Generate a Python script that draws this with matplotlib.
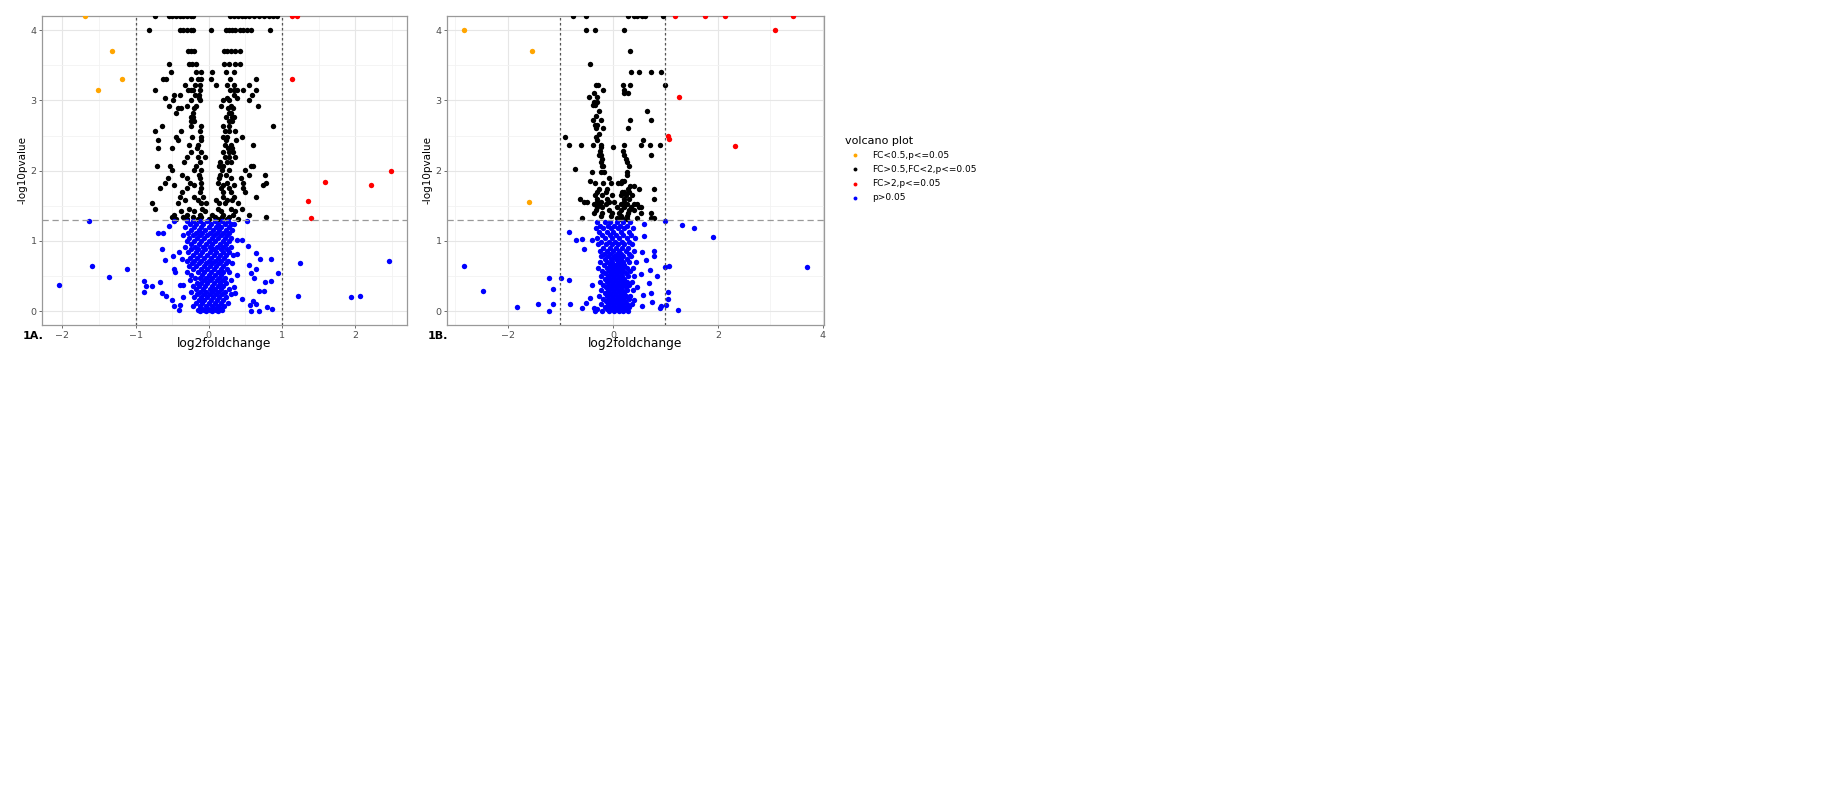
import numpy as np
import matplotlib
matplotlib.use("Agg")
import matplotlib.pyplot as plt
from matplotlib.lines import Line2D

plt.rcParams['font.family'] = ['DejaVu Sans']

legend_title = "volcano plot"
group_labels = ["FC<0.5,p<=0.05", "FC>0.5,FC<2,p<=0.05", "FC>2,p<=0.05", "p>0.05"]
group_colors = ["#FFA500", "#000000", "#FF0000", "#0000FF"]

# ---------------- panel 1A ----------------
a_orange = [(-1.69, 4.2), (-1.32, 3.7), (-1.18, 3.3), (-1.51, 3.15)]
a_red = [(1.14, 4.2), (1.2, 4.2), (1.14, 3.3), (1.36, 1.57), (1.4, 1.33),
         (1.58, 1.84), (2.21, 1.8), (2.48, 2.0)]
# rows of (y, [x ...])
a_black_rows = [
    (4.2, [-0.74, -0.55, -0.5, -0.45, -0.4, -0.35, -0.3, -0.25, -0.21, 0.29, 0.34, 0.4,
           0.45, 0.5, 0.55, 0.62, 0.68, 0.75, 0.82, 0.88, 0.93]),
    (4.0, [-0.81, -0.39, -0.35, -0.3, -0.25, -0.22, 0.03, 0.24, 0.27, 0.31, 0.36, 0.42,
           0.47, 0.52, 0.57, 0.84]),
    (3.7, [-0.29, -0.25, -0.2, 0.21, 0.25, 0.3, 0.36, 0.43]),
    (3.52, [-0.54, -0.27, -0.23, -0.17, 0.21, 0.28, 0.36, 0.43]),
    (3.4, [-0.51, -0.18, -0.1, 0.05, 0.23, 0.35]),
    (3.3, [-0.63, -0.59, -0.25, -0.15, -0.1, 0.03, 0.29, 0.65]),
    (3.22, [-0.32, -0.19, -0.12, 0.1, 0.25, 0.35, 0.55]),
    (3.15, [-0.74, -0.29, -0.25, -0.22, -0.12, 0.29, 0.34, 0.38, 0.46, 0.65]),
    (3.07, [-0.47, -0.4, -0.19, -0.13, 0.34, 0.59]),
    (3.03, [-0.6, -0.14, 0.25, 0.39]),
    (3.0, [-0.49, -0.24, -0.12, 0.2, 0.28, 0.55]),
    (2.92, [-0.55, -0.3, -0.17, 0.17, 0.3, 0.67]),
    (2.89, [-0.42, -0.38, -0.2, 0.26, 0.33]),
    (2.82, [-0.45, -0.22, 0.28, 0.3]),
    (2.77, [-0.25, -0.22, 0.23, 0.31, 0.35]),
    (2.7, [-0.24, -0.2, 0.27, 0.32]),
    (2.63, [-0.64, -0.25, -0.11, 0.2, 0.27, 0.87]),
    (2.56, [-0.73, -0.38, -0.12, 0.22, 0.28, 0.36]),
    (2.48, [-0.45, -0.23, -0.1, 0.2, 0.25, 0.45]),
    (2.44, [-0.7, -0.42, -0.11, 0.24, 0.37]),
    (2.37, [-0.27, -0.15, 0.22, 0.3, 0.6]),
    (2.32, [-0.69, -0.5, -0.16, 0.26, 0.31]),
    (2.27, [-0.25, -0.1, 0.2, 0.27, 0.33]),
    (2.2, [-0.3, -0.15, -0.05, 0.22, 0.27, 0.36]),
    (2.13, [-0.34, -0.12, 0.15, 0.25, 0.3]),
    (2.06, [-0.71, -0.53, -0.18, 0.14, 0.2, 0.57, 0.6]),
    (2.01, [-0.5, -0.2, -0.1, 0.18, 0.27, 0.5]),
    (1.94, [-0.36, -0.14, 0.15, 0.24, 0.55, 0.76]),
    (1.89, [-0.56, -0.3, -0.12, 0.14, 0.3, 0.44]),
    (1.82, [-0.6, -0.26, -0.1, 0.13, 0.25, 0.47, 0.78]),
    (1.8, [-0.48, -0.2, 0.2, 0.34, 0.74]),
    (1.75, [-0.66, -0.3, -0.1, 0.16, 0.27, 0.46]),
    (1.7, [-0.36, -0.12, 0.19, 0.3, 0.5]),
    (1.63, [-0.4, -0.2, -0.08, 0.2, 0.35, 0.64]),
    (1.58, [-0.32, -0.15, 0.1, 0.25, 0.31]),
    (1.54, [-0.78, -0.42, -0.1, -0.04, 0.14, 0.22, 0.4]),
    (1.46, [-0.74, -0.27, -0.09, 0.12, 0.3, 0.45]),
    (1.42, [-0.38, -0.2, -0.05, 0.16, 0.36]),
    (1.37, [-0.48, -0.3, -0.12, 0.05, 0.2, 0.33, 0.55]),
    (1.34, [-0.5, -0.35, -0.22, -0.1, 0.08, 0.18, 0.28, 0.78]),
    (1.31, [-0.45, -0.3, -0.15, 0.0, 0.12, 0.25, 0.4]),
]
a_blue_scatter = [
    (-1.64, 1.29), (-1.6, 0.65), (-1.36, 0.49), (-1.12, 0.6), (-2.05, 0.37), (2.46, 0.72),
    (1.25, 0.68), (1.22, 0.22), (1.94, 0.2), (2.06, 0.22), (0.95, 0.54),
    (-0.88, 0.43), (-0.86, 0.36), (-0.78, 0.36), (-0.89, 0.27), (-0.69, 1.12), (-0.62, 1.12),
    (-0.64, 0.88), (-0.67, 0.41), (-0.64, 0.26), (-0.59, 0.22), (-0.6, 0.73), (-0.49, 0.79),
    (-0.47, 0.6), (-0.46, 0.56), (-0.54, 1.22), (-0.48, 1.29), (-0.5, 0.16), (-0.48, 0.08),
    (-0.41, 0.02), (-0.39, 0.37), (-0.35, 0.37), (-0.37, 0.75), (-0.41, 0.84), (-0.35, 0.21),
    (-0.39, 0.09), (0.52, 1.29), (0.45, 1.02), (0.53, 0.93), (0.39, 0.82), (0.65, 0.83),
    (0.7, 0.74), (0.85, 0.74), (0.55, 0.66), (0.58, 0.54), (0.65, 0.6), (0.61, 0.48),
    (0.77, 0.41), (0.85, 0.43), (0.68, 0.29), (0.75, 0.29), (0.45, 0.17), (0.6, 0.15),
    (0.65, 0.1), (0.56, 0.09), (0.57, 0.0), (0.68, 0.0), (0.79, 0.06), (0.86, 0.03),
    (0.34, 0.35), (0.36, 0.26), (0.38, 0.52), (0.34, 1.24), (0.39, 1.02),
]
a_blue_rows = [
    (1.28, [-0.3, -0.22, -0.12, -0.02, 0.08, 0.18, 0.26]),
    (1.24, [-0.26, -0.17, -0.08, 0.03, 0.12, 0.22, 0.3]),
    (1.2, [-0.33, -0.2, -0.1, 0.0, 0.1, 0.16, 0.27]),
    (1.16, [-0.24, -0.14, -0.05, 0.06, 0.14, 0.24, 0.32]),
    (1.12, [-0.28, -0.18, -0.09, 0.02, 0.11, 0.2, 0.28]),
    (1.08, [-0.35, -0.22, -0.12, -0.03, 0.07, 0.17, 0.25]),
    (1.04, [-0.27, -0.16, -0.06, 0.04, 0.13, 0.22, 0.3]),
    (1.0, [-0.3, -0.2, -0.1, 0.0, 0.09, 0.19, 0.27]),
    (0.96, [-0.24, -0.14, -0.04, 0.05, 0.15, 0.24]),
    (0.92, [-0.32, -0.19, -0.08, 0.02, 0.11, 0.2, 0.3]),
    (0.88, [-0.25, -0.15, -0.05, 0.06, 0.16, 0.25]),
    (0.84, [-0.28, -0.18, -0.09, 0.01, 0.1, 0.19, 0.28]),
    (0.8, [-0.22, -0.12, -0.03, 0.07, 0.15, 0.23, 0.33]),
    (0.76, [-0.26, -0.16, -0.06, 0.03, 0.12, 0.21]),
    (0.72, [-0.3, -0.2, -0.1, 0.0, 0.08, 0.17, 0.26]),
    (0.68, [-0.23, -0.13, -0.04, 0.05, 0.14, 0.23, 0.31]),
    (0.64, [-0.27, -0.17, -0.07, 0.02, 0.1, 0.19]),
    (0.6, [-0.21, -0.11, -0.02, 0.07, 0.16, 0.25]),
    (0.56, [-0.3, -0.15, -0.06, 0.03, 0.12, 0.2, 0.28]),
    (0.52, [-0.24, -0.09, 0.0, 0.09, 0.17]),
    (0.48, [-0.19, -0.12, -0.04, 0.05, 0.14, 0.22]),
    (0.44, [-0.26, -0.07, 0.02, 0.11, 0.19, 0.3]),
    (0.4, [-0.16, -0.1, -0.02, 0.07, 0.15, 0.24]),
    (0.36, [-0.22, -0.13, -0.05, 0.04, 0.12, 0.2]),
    (0.32, [-0.18, -0.08, 0.01, 0.09, 0.17, 0.27]),
    (0.28, [-0.25, -0.12, -0.04, 0.05, 0.13, 0.22]),
    (0.24, [-0.16, -0.07, 0.02, 0.1, 0.18, 0.3]),
    (0.2, [-0.2, -0.11, -0.03, 0.06, 0.14, 0.24]),
    (0.16, [-0.14, -0.06, 0.03, 0.11, 0.19]),
    (0.12, [-0.18, -0.09, 0.0, 0.08, 0.16, 0.26]),
    (0.08, [-0.22, -0.12, -0.04, 0.05, 0.13, 0.21]),
    (0.05, [-0.1, -0.02, 0.07, 0.15]),
    (0.02, [-0.15, -0.07, 0.01, 0.1, 0.18]),
    (0.0, [-0.12, -0.04, 0.04, 0.12]),
]

# ---------------- panel 1B ----------------
b_orange = [(-2.84, 4.0), (-1.55, 3.7), (-1.59, 1.55)]
b_red = [(1.19, 4.2), (1.75, 4.2), (2.13, 4.2), (3.43, 4.2), (3.08, 4.0), (1.26, 3.05),
         (1.05, 2.49), (1.07, 2.45), (2.32, 2.35)]
b_black_rows = [
    (4.2, [-0.76, -0.51, 0.29, 0.4, 0.46, 0.56, 0.62, 0.96]),
    (4.0, [-0.51, -0.35, 0.21]),
    (3.7, [0.32]),
    (3.52, [-0.43]),
    (3.4, [0.35, 0.5, 0.73, 0.92]),
    (3.22, [-0.33, -0.29, 0.2, 0.32, 1.0]),
    (3.15, [-0.18, 0.22]),
    (3.1, [-0.36, 0.21, 0.29]),
    (3.05, [-0.46, -0.31]),
    (2.98, [-0.36, -0.3]),
    (2.93, [-0.37, -0.34]),
    (2.85, [-0.27, 0.65]),
    (2.78, [-0.33]),
    (2.72, [-0.37, -0.23, 0.32, 0.72]),
    (2.65, [-0.35, -0.3]),
    (2.6, [-0.33, -0.19, 0.29]),
    (2.52, [-0.27]),
    (2.48, [-0.92, -0.33]),
    (2.44, [-0.3, 0.58]),
    (2.37, [-0.83, -0.6, -0.37, -0.22, 0.21, 0.53, 0.7, 0.9]),
    (2.34, [-0.22, 0.0]),
    (2.28, [-0.25, 0.2]),
    (2.22, [-0.27, -0.23, 0.22, 0.72]),
    (2.17, [-0.2, 0.24]),
    (2.12, [-0.22, 0.26]),
    (2.06, [-0.2, -0.18, 0.3]),
    (2.03, [-0.73]),
    (1.98, [-0.39, -0.23, -0.17, 0.27]),
    (1.94, [0.27]),
    (1.9, [-0.08]),
    (1.86, [-0.44, 0.18, 0.21]),
    (1.82, [-0.35, -0.18, -0.04, 0.1, 0.15]),
    (1.78, [0.32, 0.4]),
    (1.74, [-0.27, -0.12, 0.29, 0.5, 0.79]),
    (1.7, [-0.3, -0.14, 0.18, 0.21, 0.3]),
    (1.66, [-0.35, -0.2, -0.01, 0.15, 0.24, 0.37]),
    (1.6, [-0.63, -0.3, -0.11, 0.22, 0.3, 0.78]),
    (1.56, [-0.55, -0.49, -0.3, -0.23, -0.08, 0.02, 0.21]),
    (1.52, [-0.36, -0.27, -0.14, 0.15, 0.27, 0.4, 0.46]),
    (1.48, [-0.3, -0.2, 0.08, 0.21, 0.35, 0.5, 0.53]),
    (1.44, [-0.33, -0.08, 0.15, 0.3, 0.4]),
    (1.4, [-0.36, -0.2, -0.01, 0.11, 0.29, 0.53, 0.72]),
    (1.36, [-0.23, -0.04, 0.15, 0.26]),
    (1.32, [-0.58, 0.08, 0.18, 0.46, 0.73, 0.78]),
    (1.31, [0.15, 0.27]),
]
b_blue_scatter = [
    (-2.84, 0.64), (-2.47, 0.29), (-1.82, 0.06), (-1.43, 0.1), (-1.21, 0.48), (-1.14, 0.31),
    (-1.14, 0.1), (-1.21, 0.0), (-0.99, 0.48), (-0.83, 0.45), (-0.82, 0.1), (-0.83, 1.13),
    (-0.7, 1.02), (-0.58, 1.03), (-0.55, 0.89), (-0.39, 1.02), (-0.51, 0.12), (-0.58, 0.05),
    (-0.43, 0.19), (-0.39, 0.38), (-0.36, 0.04), (-0.35, 0.0),
    (1.32, 1.23), (1.54, 1.19), (1.91, 1.06), (3.7, 0.63), (1.07, 0.65), (0.99, 0.63),
    (1.05, 0.27), (1.05, 0.18), (1.02, 0.09), (1.23, 0.02), (0.99, 1.29), (0.92, 0.08),
    (0.9, 0.04), (0.84, 0.5), (0.78, 0.86), (0.78, 0.79), (0.7, 0.59), (0.69, 0.4),
    (0.72, 0.26), (0.75, 0.13), (0.6, 1.24), (0.6, 1.07), (0.56, 0.84), (0.63, 0.73),
    (0.53, 0.53), (0.58, 0.23), (0.56, 0.08), (0.4, 0.16), (0.46, 0.34),
]
b_blue_rows = [
    (1.27, [-0.3, -0.15, -0.05, 0.08, 0.2, 0.32]),
    (1.22, [-0.24, -0.1, 0.02, 0.14, 0.26]),
    (1.18, [-0.33, -0.18, -0.04, 0.1, 0.22, 0.38]),
    (1.13, [-0.26, -0.12, 0.0, 0.16, 0.3]),
    (1.08, [-0.2, -0.06, 0.06, 0.2, 0.34]),
    (1.04, [-0.3, -0.15, -0.01, 0.12, 0.26, 0.42]),
    (0.99, [-0.22, -0.08, 0.04, 0.17, 0.3]),
    (0.95, [-0.28, -0.14, -0.02, 0.1, 0.22, 0.36]),
    (0.9, [-0.19, -0.06, 0.06, 0.18, 0.28]),
    (0.86, [-0.25, -0.11, 0.0, 0.12, 0.24, 0.4]),
    (0.82, [-0.17, -0.05, 0.07, 0.16, 0.3]),
    (0.78, [-0.22, -0.1, 0.02, 0.1, 0.2, 0.34]),
    (0.74, [-0.15, -0.04, 0.06, 0.15, 0.26]),
    (0.7, [-0.24, -0.12, -0.01, 0.09, 0.19, 0.3, 0.44]),
    (0.66, [-0.17, -0.06, 0.04, 0.13, 0.22]),
    (0.62, [-0.28, -0.12, -0.02, 0.08, 0.17, 0.27, 0.38]),
    (0.58, [-0.2, -0.08, 0.02, 0.11, 0.2, 0.32]),
    (0.54, [-0.15, -0.04, 0.06, 0.15, 0.24]),
    (0.5, [-0.22, -0.1, 0.0, 0.09, 0.18, 0.28, 0.4]),
    (0.46, [-0.16, -0.06, 0.04, 0.13, 0.22]),
    (0.42, [-0.25, -0.11, -0.01, 0.08, 0.17, 0.26, 0.36]),
    (0.38, [-0.18, -0.07, 0.03, 0.12, 0.21, 0.3]),
    (0.34, [-0.13, -0.03, 0.06, 0.15, 0.24]),
    (0.3, [-0.22, -0.1, 0.0, 0.09, 0.18, 0.27, 0.38]),
    (0.26, [-0.16, -0.06, 0.04, 0.13, 0.22]),
    (0.22, [-0.26, -0.12, -0.02, 0.07, 0.16, 0.25, 0.33]),
    (0.18, [-0.19, -0.08, 0.02, 0.11, 0.2, 0.3]),
    (0.14, [-0.14, -0.04, 0.05, 0.14, 0.23]),
    (0.1, [-0.23, -0.1, 0.0, 0.09, 0.18, 0.27, 0.36]),
    (0.06, [-0.16, -0.06, 0.04, 0.13, 0.22, 0.3]),
    (0.03, [-0.3, -0.12, -0.02, 0.07, 0.16, 0.25]),
    (0.0, [-0.2, -0.08, 0.02, 0.11, 0.2, 0.28]),
]

p_cut = -np.log10(0.05)
fc_cut = 1


def rows_xy(rows):
    xs, ys = [], []
    for y, row in rows:
        xs += row
        ys += [y] * len(row)
    return np.array(xs), np.array(ys)


def pts_xy(pts):
    a = np.array(pts)
    return a[:, 0], a[:, 1]


def volcano(ax, orange, black_rows, red, blue_scatter, blue_rows, xlim, xticks, xminor, tag):
    bx1, by1 = rows_xy(blue_rows)
    bx2, by2 = pts_xy(blue_scatter)
    groups = [pts_xy(orange), rows_xy(black_rows), pts_xy(red),
              (np.r_[bx1, bx2], np.r_[by1, by2])]
    for (x, y), c in zip(groups, group_colors):
        ax.scatter(x, y, s=15, color=c, linewidths=0, zorder=3)
    ax.axvline(-fc_cut, color="#555555", lw=0.9, ls=(0, (2, 2)), zorder=4)
    ax.axvline(fc_cut, color="#555555", lw=0.9, ls=(0, (2, 2)), zorder=4)
    ax.axhline(p_cut, color="#999999", lw=0.9, ls=(0, (5, 3)), zorder=4)
    ax.set_xlim(*xlim)
    ax.set_ylim(-0.195, 4.2)
    ax.set_xticks(xticks)
    ax.set_xticks(xminor, minor=True)
    ax.set_yticks([0, 1, 2, 3, 4])
    ax.set_yticks([0.5, 1.5, 2.5, 3.5], minor=True)
    ax.grid(True, which="major", color="#E6E6E6", lw=0.8, zorder=0)
    ax.grid(True, which="minor", color="#F2F2F2", lw=0.6, zorder=0)
    ax.set_axisbelow(True)
    ax.tick_params(which="major", length=2.5, width=0.6, color="#555555",
                   labelsize=6.8, labelcolor="#4D4D4D", pad=1.5)
    ax.tick_params(which="minor", length=0)
    for s in ax.spines.values():
        s.set_color("#999999")
        s.set_linewidth(0.9)
    ax.set_xlabel("log2foldchange", fontsize=8.8, labelpad=-2)
    ax.set_ylabel("-log10pvalue", fontsize=7.5, labelpad=2)
    ax.text(-0.025, -0.035, tag, transform=ax.transAxes, fontsize=8, fontweight="bold",
            ha="center", va="center")


W, H = 1821, 800
fig = plt.figure(figsize=(W / 100, H / 100), dpi=100)

ax_a = fig.add_axes([42 / W, 1 - 325 / H, 365 / W, 309 / H])
volcano(ax_a, a_orange, a_black_rows, a_red, a_blue_scatter, a_blue_rows,
        (-2.277, 2.705), [-2, -1, 0, 1, 2], [-1.5, -0.5, 0.5, 1.5, 2.5], "1A.")

ax_b = fig.add_axes([447 / W, 1 - 325 / H, 377 / W, 309 / H])
volcano(ax_b, b_orange, b_black_rows, b_red, b_blue_scatter, b_blue_rows,
        (-3.16, 4.02), [-2, 0, 2, 4], [-3, -1, 1, 3], "1B.")

# legend
fig.text(845 / W, 1 - 141 / H, legend_title, fontsize=8, ha="left", va="center")
for i, (lab, c) in enumerate(zip(group_labels, group_colors)):
    yc = 1 - (155 + 14.3 * i) / H
    fig.add_artist(Line2D([855 / W], [yc], marker="o", ms=2.8, mew=0, color=c,
                          transform=fig.transFigure))
    fig.text(872 / W, yc, lab, fontsize=6.5, ha="left", va="center")

fig.savefig("out.png", dpi=100)
